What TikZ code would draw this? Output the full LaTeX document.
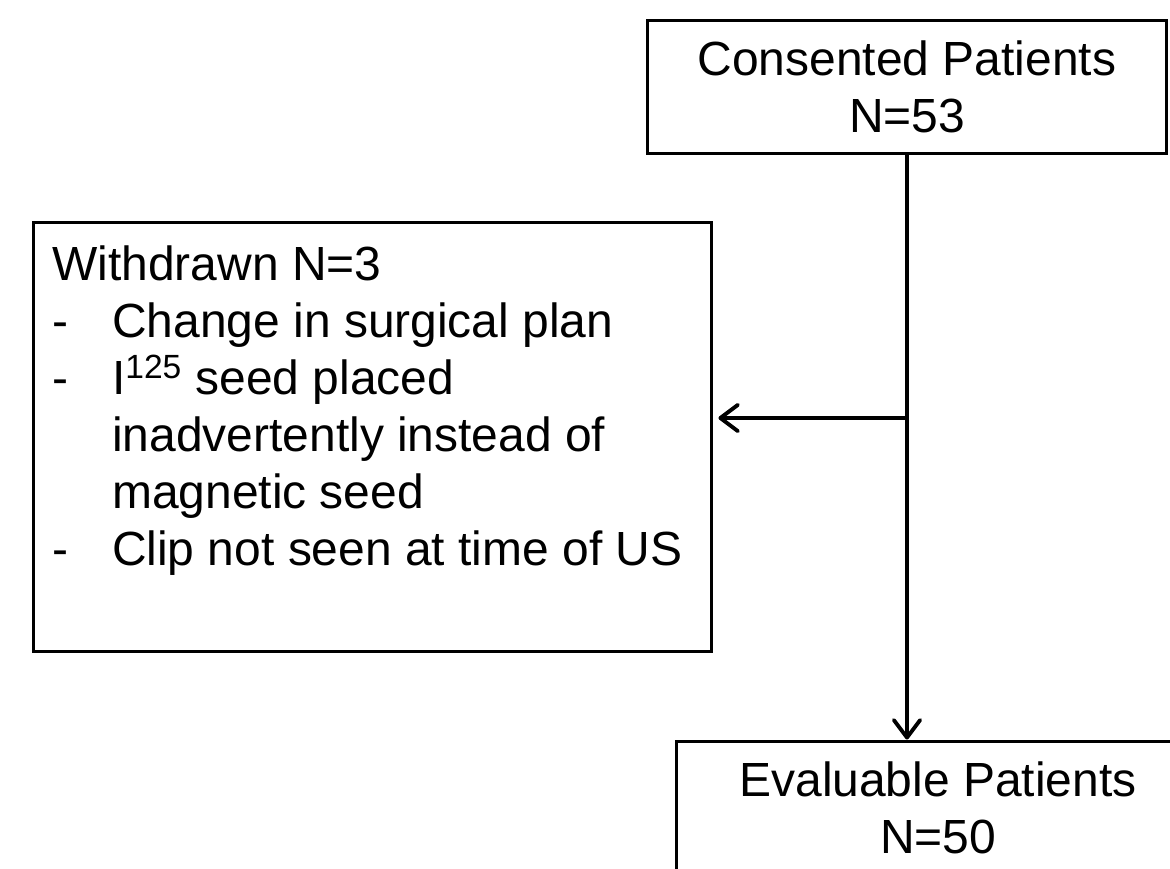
\documentclass[tikz,border=0pt]{standalone}
\usepackage{fontspec}
\setmainfont{Liberation Sans}
\usetikzlibrary{arrows.meta, calc}

\newcommand{\bigtext}{\fontsize{27.3}{32.4}\selectfont}
\newcommand{\dashitem}{\makebox[34pt][l]{-}}
\newcommand{\indentitem}{\hspace*{34pt}}

\begin{document}
\begin{tikzpicture}[x=0.02cm, y=-0.02cm,
    every node/.style={font=\bigtext},
    box/.style={draw, line width=1.7pt, inner sep=0pt},
    conn/.style={line width=2.2pt, -{Straight Barb[round, length=10pt, width=15pt]}}]
  \useasboundingbox (0,0) rectangle (1170,869);
  \clip (0,0) rectangle (1170,869);

  \node[box, align=center, minimum width=10.4cm, minimum height=2.68cm]
    (consented) at (907, 87) {Consented Patients\\N=53};
  \node[box, minimum width=13.58cm, minimum height=8.6cm]
    (withdrawn) at (372.5, 437) {};
  % base anchor = baseline of the last line
  \node[anchor=base west, align=left, inner sep=0pt]
    (reasons) at (52, 565)
    {Withdrawn N=3\\
     \dashitem Change in surgical plan\\
     \dashitem I\textsuperscript{125} seed placed\\
     \indentitem inadvertently instead of\\
     \indentitem magnetic seed\\
     \dashitem Clip not seen at time of US};
  \node[box, align=center, minimum width=10.48cm, minimum height=2.68cm]
    (evaluable) at (938, 808) {Evaluable Patients\\N=50};

  \coordinate (branch) at (907, 418);
  \draw[conn] (consented.south) -- (consented.south |- evaluable.north);
  \draw[conn, shorten >=0.1cm] (branch) -- (branch -| withdrawn.east);

\end{tikzpicture}
\end{document}
